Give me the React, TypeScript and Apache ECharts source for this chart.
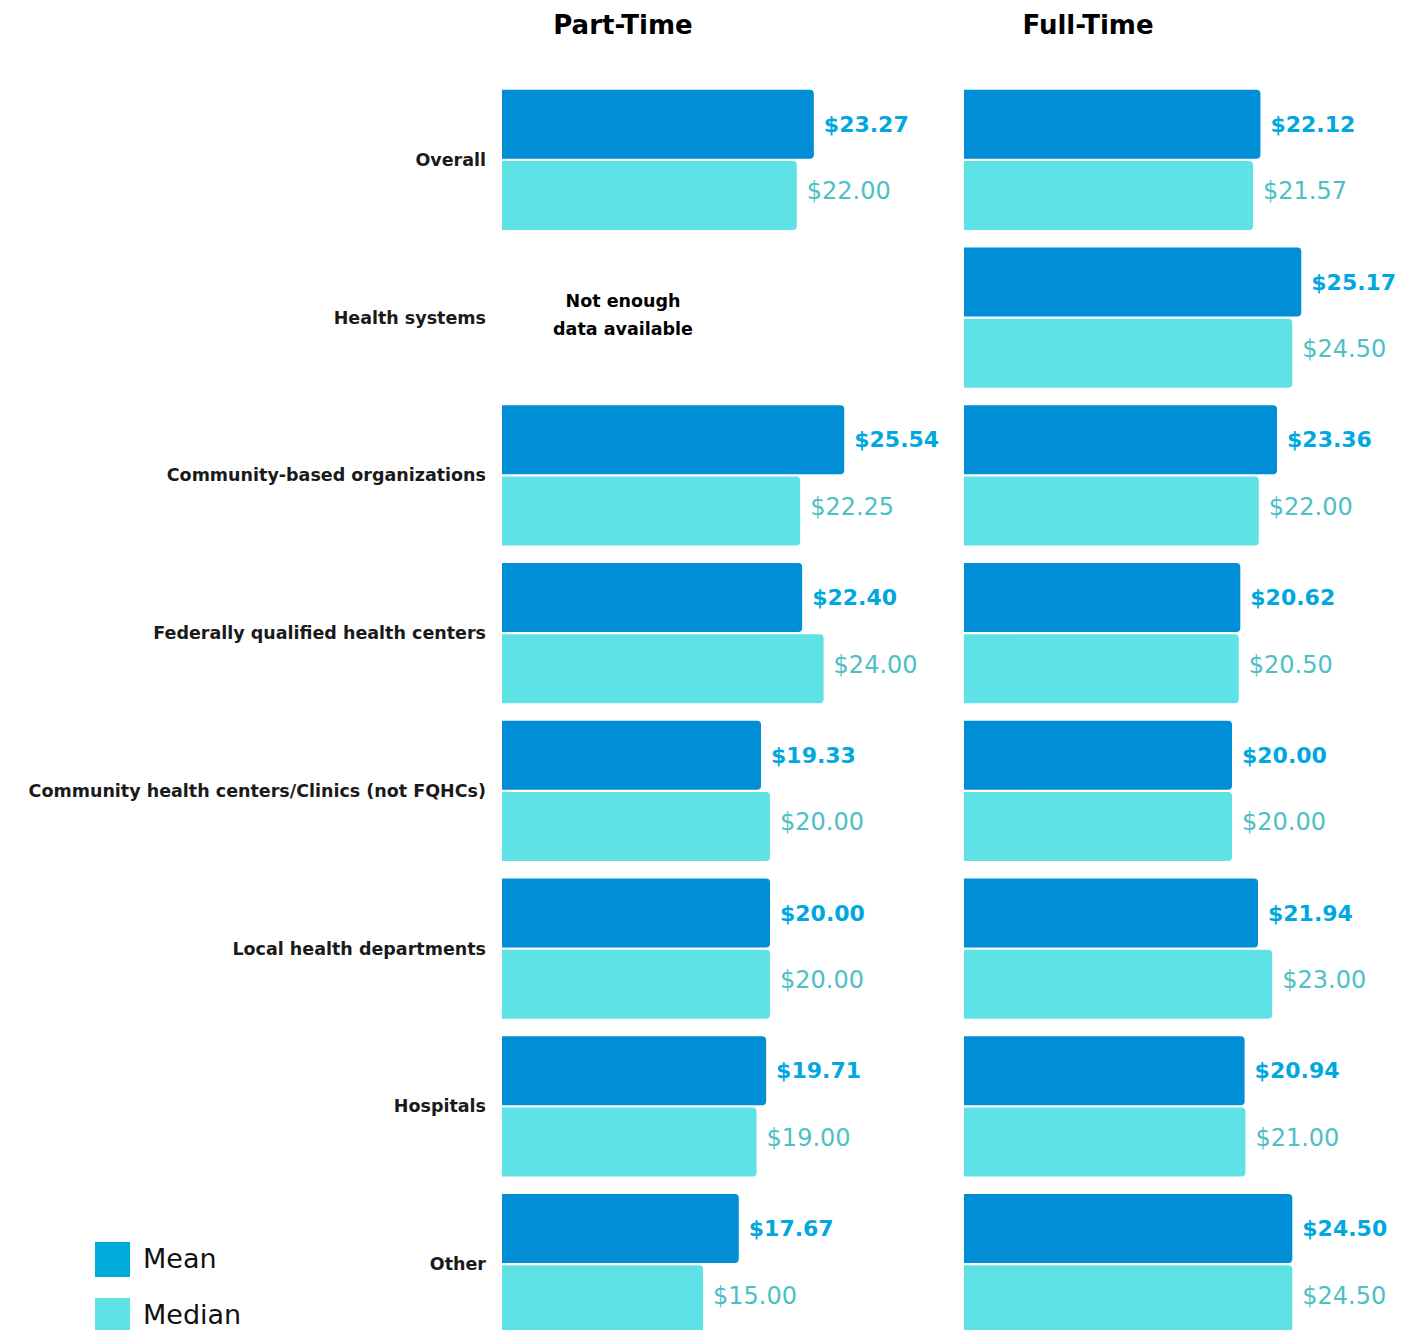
import React, { useEffect, useRef } from "react";
import * as echarts from "echarts";

const categories = [
  "Overall",
  "Health systems",
  "Community-based organizations",
  "Federally qualified health centers",
  "Community health centers/Clinics (not FQHCs)",
  "Local health departments",
  "Hospitals",
  "Other",
];
const partTimeMean = [23.27, null, 25.54, 22.4, 19.33, 20.0, 19.71, 17.67];
const partTimeMedian = [22.0, null, 22.25, 24.0, 20.0, 20.0, 19.0, 15.0];
const fullTimeMean = [22.12, 25.17, 23.36, 20.62, 20.0, 21.94, 20.94, 24.5];
const fullTimeMedian = [21.57, 24.5, 22.0, 20.5, 20.0, 23.0, 21.0, 24.5];
const panelTitles = ["Part-Time", "Full-Time"];
const seriesNames = ["Mean", "Median"];

const FONT = "'DejaVu Sans', sans-serif";
const MEAN_COLOR = "#008ED6";
const MEDIAN_COLOR = "#5EE2E6";
const MEAN_LABEL = "#00A8DF";
const MEDIAN_LABEL = "#4DC0C5";
const LEGEND_MEAN = "#00ABDB";

export default function App() {
  const ref = useRef<HTMLDivElement>(null);
  useEffect(() => {
    const chart = echarts.init(ref.current!, null, { renderer: "svg" });
    const fmt = (p: any) => "$" + Number(p.value).toFixed(2);
    const barSeries = (
      name: string,
      data: any[],
      idx: number,
      color: string,
      labelColor: string,
      weight: any,
      size: number,
      dy: number
    ) => ({
      type: "bar",
      name,
      data,
      xAxisIndex: idx,
      yAxisIndex: idx,
      barWidth: 69,
      barGap: "3%",
      itemStyle: { color, borderRadius: [0, 4, 4, 0] },
      label: {
        show: true,
        position: "right",
        distance: 10,
        offset: [0, dy],
        formatter: fmt,
        color: labelColor,
        fontSize: size,
        fontWeight: weight,
        fontFamily: FONT,
      },
    });
    const grids = [
      { left: 502, width: 402, top: 81, bottom: 0 },
      { left: 964, width: 402, top: 81, bottom: 0 },
    ];
    const txt = (x: number, y: number, text: string, size: number, weight: any, fill = "#000", align = "center", extra: any = {}) => ({
      type: "text",
      x,
      y,
      style: { text, align, verticalAlign: "middle", fontSize: size, fontWeight: weight, fontFamily: FONT, fill, ...extra },
    });
    chart.setOption({
      animation: false,
      grid: grids,
      xAxis: grids.map((_, i) => ({
        type: "value",
        gridIndex: i,
        min: 0,
        max: 30,
        show: false,
      })),
      yAxis: grids.map((_, i) => ({
        type: "category",
        gridIndex: i,
        data: categories,
        inverse: true,
        axisLine: { show: false },
        axisTick: { show: false },
        splitLine: { show: false },
        axisLabel: {
          show: i === 0,
          margin: 16,
          color: "#1a1a1a",
          fontSize: 17.5,
          fontWeight: "bold",
          fontFamily: FONT,
        },
      })),
      graphic: [
        txt(623, 25, panelTitles[0], 26, "bold"),
        txt(1088, 25, panelTitles[1], 26, "bold"),
        txt(623, 315, "Not enough\ndata available", 17.5, "bold", "#000", "center", { lineHeight: 28 }),
        { type: "rect", shape: { x: 95, y: 1242, width: 35, height: 35 }, style: { fill: LEGEND_MEAN } },
        { type: "rect", shape: { x: 95, y: 1298, width: 35, height: 35 }, style: { fill: MEDIAN_COLOR } },
        txt(143, 1258, seriesNames[0], 27, "normal", "#111", "left"),
        txt(143, 1314, seriesNames[1], 27, "normal", "#111", "left"),
      ],
      series: [
        barSeries(seriesNames[0], partTimeMean, 0, MEAN_COLOR, MEAN_LABEL, "bold", 22, 0),
        barSeries(seriesNames[1], partTimeMedian, 0, MEDIAN_COLOR, MEDIAN_LABEL, "normal", 24, -4),
        barSeries(seriesNames[0], fullTimeMean, 1, MEAN_COLOR, MEAN_LABEL, "bold", 22, 0),
        barSeries(seriesNames[1], fullTimeMedian, 1, MEDIAN_COLOR, MEDIAN_LABEL, "normal", 24, -4),
      ],
    });
    return () => chart.dispose();
  }, []);
  return (
    <div
      ref={ref}
      style={{ position: "absolute", left: 0, top: 0, width: 1402, height: 1343, background: "#fff" }}
    />
  );
}
